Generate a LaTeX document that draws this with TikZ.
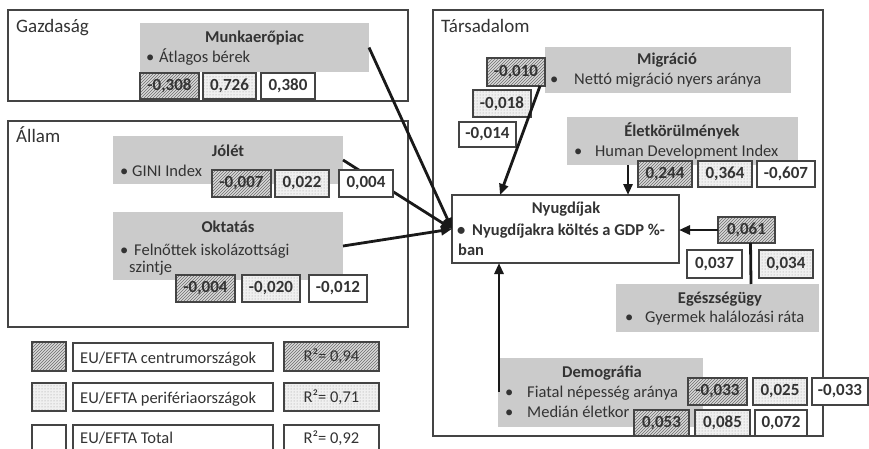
\documentclass[tikz,border=0pt]{standalone}
\usepackage{fontspec}
\setmainfont{Carlito}
\usetikzlibrary{patterns,calc,arrows.meta}
\definecolor{txt}{HTML}{333333}
\definecolor{edge}{HTML}{444444}
\definecolor{greyfill}{HTML}{CBCBCB}
\newcommand\bx[7]{\node[#1, minimum width={#5-#3}, minimum height={#6-#4}] (#2) at ({(#3+#5)/2},{(#4+#6)/2}) {#7};}
\newcommand\fs{\fontsize{16.5}{19}\selectfont}
\newcommand\fv{\fontsize{17}{20}\selectfont}
\newcommand\fb{\fontsize{19}{22}\selectfont}
\begin{document}
\begin{tikzpicture}[x=1pt,y=-1pt, font=\fs, text=txt,
  frame/.style={draw=edge, line width=1.3pt, inner sep=0pt, outer sep=0pt},
  greybox/.style={fill=greyfill, draw=none, inner sep=0pt, outer sep=0pt},
  val/.style={draw=edge, line width=1.2pt, fill=white, font=\fv\bfseries, inner sep=0pt, outer sep=0pt},
  plainval/.style={val, font=\fs},
  hatch/.style={preaction={fill=gray!30}, pattern=north east lines, pattern color=gray!85!black},
  dotted fill/.style={preaction={fill=gray!12}, pattern=dots, pattern color=gray!80},
  lbl/.style={anchor=base west, inner sep=0pt},
  big/.style={anchor=base west, inner sep=0pt, font=\fb},
  ttl/.style={anchor=base, inner sep=0pt, font=\fs\bfseries},
  arr/.style={line width=2.8pt, draw=black!90, -{Triangle[length=11pt,width=9pt]}},
  thickline/.style={line width=2.8pt, draw=black!90}
]
\clip (0,0) rectangle (869,449);
\fill[white] (0,0) rectangle (869,449);

% frames
\bx{frame}{gaz}{8}{10}{408}{101}{}
\bx{frame}{allam}{8}{121}{408}{327}{}
\bx{frame}{tars}{433}{10}{823}{436}{}
\node[big] (gazt) at (16,33) {Gazdaság};
\node[big] (allamt) at (16,143) {Állam};
\node[big] (tarst) at (441,33) {Társadalom};

% grey boxes
\bx{greybox}{munk}{140}{23}{369}{72}{}
\bx{greybox}{jolet}{113}{136}{343}{184}{}
\bx{greybox}{okt}{113}{212}{343}{280}{}
\bx{greybox}{mig}{545}{47}{791}{93}{}
\bx{greybox}{elet}{567}{117}{798}{165}{}
\bx{greybox}{egesz}{616}{284}{819}{332}{}
\bx{greybox}{dem}{498}{358}{703}{427}{}

% target box
\bx{frame}{ny}{452}{195}{679}{263}{}

% connectors
\draw[arr] (munk.east) -- (ny.west);
\draw[arr] (jolet.east) -- (ny.west);
\draw[arr] (okt.east) -- (ny.west);

% value boxes
\bx{val,hatch}{m1}{140}{73}{199}{99}{-0,308}
\bx{val,dotted fill}{m2}{203}{73}{256}{99}{0,726}
\bx{val}{m3}{261}{73}{315}{99}{0,380}

\bx{val,hatch}{j1}{212}{170}{271}{197}{-0,007}
\bx{val,dotted fill}{j2}{275}{170}{329}{197}{0,022}
\bx{val}{j3}{339}{170}{393}{197}{0,004}

\bx{val,hatch}{o1}{176}{275}{235}{302}{-0,004}
\bx{val,dotted fill}{o2}{242}{275}{300}{302}{-0,020}
\bx{val}{o3}{309}{275}{367}{302}{-0,012}

\bx{val,hatch}{g1}{487}{58}{545}{86}{-0,010}
\bx{val,dotted fill}{g2}{473}{90}{531}{117}{-0,018}
\bx{val}{g3}{459}{122}{516}{147}{-0,014}
\draw[arr] ($(g1.south east)+(-5,0)$) -- ($(ny.north west)+(48,0)$);

\draw[arr] ($(elet.south west)+(61,0)$) -- ($(ny.north west)+(176,0)$);
\bx{val,hatch}{e1}{638}{161}{692}{187}{0,244}
\bx{val,dotted fill}{e2}{698}{161}{752}{187}{0,364}
\bx{val}{e3}{757}{161}{815}{187}{-0,607}

\bx{val,hatch}{h1}{718}{217}{775}{243}{0,061}
\draw[arr] (h1.west) -- (h1.west -| ny.east);
\draw[thickline] ($(h1.south)+(4,0)$) -- ($(egesz.north west)+(135,0)$);
\bx{val}{h2}{687}{250}{742}{278}{0,037}
\bx{val,dotted fill}{h3}{759}{250}{813}{278}{0,034}

\draw[arr] ($(dem.north west)+(1,34)$) -- ($(ny.south west)+(47,0)$);
\bx{val,hatch}{d1}{688}{378}{747}{405}{-0,033}
\bx{val,dotted fill}{d2}{753}{378}{807}{405}{0,025}
\bx{val}{d3}{812}{378}{868}{405}{-0,033}
\bx{val,hatch}{d4}{634}{410}{689}{436}{0,053}
\bx{val,dotted fill}{d5}{695}{410}{750}{436}{0,085}
\bx{val}{d6}{755}{410}{807}{436}{0,072}

% texts in boxes
\node[ttl] (munkt) at (254.5,43) {Munkaerőpiac};
\node[lbl] (munkb) at (146,63) {•};
\node[lbl] (munkl) at (159,63) {Átlagos bérek};

\node[ttl] (jolett) at (228,157) {Jólét};
\node[lbl] (joletb) at (120,176) {•};
\node[lbl] (joletl) at (132,176) {GINI Index};

\node[ttl] (oktt) at (228,232) {Oktatás};
\node[lbl] (oktb) at (120,255) {•};
\node[lbl] (oktl1) at (134,255) {Felnőttek iskolázottsági};
\node[lbl] (oktl2) at (129,272) {szintje};

\node[ttl] (migt) at (667,65) {Migráció};
\node[lbl] (migb) at (550,85) {•};
\node[lbl] (migl) at (574,85) {Nettó migráció nyers aránya};

\node[ttl] (elett) at (682,137) {Életkörülmények};
\node[lbl] (eletb) at (574,157) {•};
\node[lbl] (eletl) at (595,157) {Human Development Index};

\node[ttl] (nyt) at (566,213) {Nyugdíjak};
\node[lbl, font=\fs\bfseries] (nyb) at (457,235) {•};
\node[lbl, font=\fs\bfseries] (nyl1) at (472,235) {Nyugdíjakra költés a GDP \%-};
\node[lbl, font=\fs\bfseries] (nyl2) at (458,255) {ban};

\node[ttl] (egeszt) at (720,303) {Egészségügy};
\node[lbl] (egeszb) at (625,322) {•};
\node[lbl] (egeszl) at (645,322) {Gyermek halálozási ráta};

\node[ttl] (demt) at (602,377) {Demográfia};
\node[lbl] (demb1) at (505,397) {•};
\node[lbl] (deml1) at (527,397) {Fiatal népesség aránya};
\node[lbl] (demb2) at (505,417) {•};
\node[lbl] (deml2) at (527,417) {Medián életkor};

% legend
\bx{val,hatch}{s1}{32}{342}{66}{371}{}
\bx{val}{l1}{73}{343}{273}{371}{}
\bx{plainval,hatch}{r1}{284}{342}{379}{371}{R²= 0,94}
\bx{val,dotted fill}{s2}{32}{383}{66}{411}{}
\bx{val}{l2}{73}{383}{273}{411}{}
\bx{plainval,dotted fill}{r2}{284}{383}{379}{411}{R²= 0,71}
\bx{val}{s3}{32}{425}{66}{460}{}
\bx{val}{l3}{73}{425}{273}{460}{}
\bx{plainval}{r3}{284}{425}{379}{460}{}
\node[lbl] (l1t) at (80,363) {EU/EFTA centrumországok};
\node[lbl] (l2t) at (80,403) {EU/EFTA perifériaországok};
\node[lbl] (l3t) at (80,443) {EU/EFTA Total};
\node[anchor=base, inner sep=0pt] (r3t) at (331.5,443) {R²= 0,92};
\end{tikzpicture}
\end{document}
